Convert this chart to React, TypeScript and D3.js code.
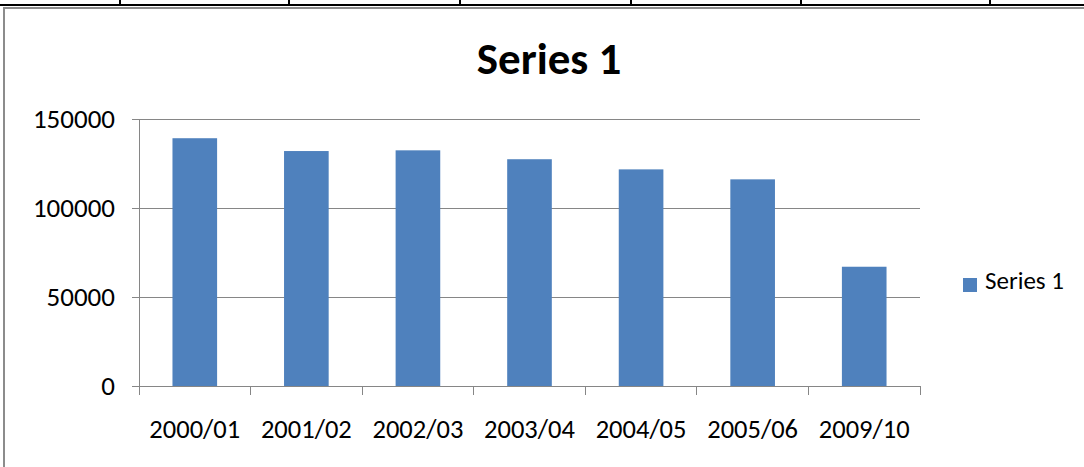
import { useEffect, useRef } from "react";
import * as d3 from "d3";

const categories = ["2000/01", "2001/02", "2002/03", "2003/04", "2004/05", "2005/06", "2009/10"];
const values = [139200, 132000, 132400, 127400, 121700, 116100, 67000];
const yTicks = [0, 50000, 100000, 150000];
const seriesName = "Series 1";
const sheetColumns = [120, 289, 460, 631, 801, 990];

const W = 1084;
const H = 467;
const FONT = "Carlito, Calibri, Lato, 'Open Sans', sans-serif";

export default function App() {
  const svgRef = useRef<SVGSVGElement | null>(null);

  useEffect(() => {
    if (!svgRef.current) return;
    const svg = d3.select(svgRef.current);
    svg.selectAll("*").remove();

    // spreadsheet grid peeking above the chart
    svg.append("rect").attr("width", W).attr("height", H).attr("fill", "#fff");
    svg.append("line").attr("x1", 0).attr("x2", W).attr("y1", 5).attr("y2", 5)
      .attr("stroke", "#000").attr("stroke-width", 2);
    sheetColumns.forEach(x => {
      svg.append("line").attr("x1", x).attr("x2", x).attr("y1", 0).attr("y2", 5)
        .attr("stroke", "#000").attr("stroke-width", 2);
    });

    // chart frame
    svg.append("rect").attr("x", 4).attr("y", 8).attr("width", W + 10).attr("height", H + 10)
      .attr("fill", "#fff").attr("stroke", "#8c8c8c").attr("stroke-width", 2);

    const plot = { left: 139, right: 920, top: 119, bottom: 386 };

    const x = d3.scaleBand().domain(categories).range([plot.left, plot.right]).paddingInner(0.6).paddingOuter(0.3);
    const xb = d3.scaleBand().domain(categories).range([plot.left, plot.right]);
    const y = d3.scaleLinear().domain([0, 150000]).range([plot.bottom, plot.top]);

    const g = svg.append("g");

    // gridlines + y ticks
    yTicks.forEach(t => {
      g.append("line").attr("x1", plot.left - 7).attr("x2", plot.right)
        .attr("y1", y(t)).attr("y2", y(t)).attr("stroke", "#868686").attr("stroke-width", 1)
        .attr("shape-rendering", "crispEdges");
      g.append("text").attr("x", 115).attr("y", y(t) + 8.5)
        .attr("text-anchor", "end").attr("font-family", FONT).attr("font-size", 27)
        .attr("fill", "#000").text(t);
    });

    // bars
    g.selectAll("rect.bar").data(values).join("rect").attr("class", "bar")
      .attr("x", (_, i) => x(categories[i])!)
      .attr("width", x.bandwidth())
      .attr("y", d => y(d))
      .attr("height", d => plot.bottom - y(d))
      .attr("fill", "#4F81BD");

    // axes lines
    g.append("line").attr("x1", plot.left).attr("x2", plot.left).attr("y1", plot.top).attr("y2", plot.bottom)
      .attr("stroke", "#868686").attr("shape-rendering", "crispEdges");
    g.append("line").attr("x1", plot.left).attr("x2", plot.right).attr("y1", plot.bottom).attr("y2", plot.bottom)
      .attr("stroke", "#868686").attr("shape-rendering", "crispEdges");
    const tickXs = categories.map(c => xb(c)!).concat([plot.right]);
    tickXs.forEach(tx => {
      g.append("line").attr("x1", tx).attr("x2", tx).attr("y1", plot.bottom).attr("y2", plot.bottom + 9)
        .attr("stroke", "#868686").attr("shape-rendering", "crispEdges");
    });
    categories.forEach(c => {
      g.append("text").attr("x", xb(c)! + xb.bandwidth() / 2).attr("y", 438)
        .attr("text-anchor", "middle").attr("font-family", FONT).attr("font-size", 26.5)
        .attr("fill", "#000").text(c);
    });

    // title
    svg.append("text").attr("x", 549).attr("y", 74).attr("text-anchor", "middle")
      .attr("font-family", FONT).attr("font-weight", "bold").attr("font-size", 45)
      .attr("fill", "#000").text(seriesName);

    // legend
    svg.append("rect").attr("x", 963).attr("y", 278).attr("width", 14).attr("height", 14).attr("fill", "#4F81BD");
    svg.append("text").attr("x", 985).attr("y", 289).attr("font-family", FONT).attr("font-size", 25)
      .attr("fill", "#000").text(seriesName);
  }, []);

  return (
    <div style={{ position: "fixed", left: 0, top: 0, width: W, height: H }}>
      <svg ref={svgRef} width={W} height={H}></svg>
    </div>
  );
}
